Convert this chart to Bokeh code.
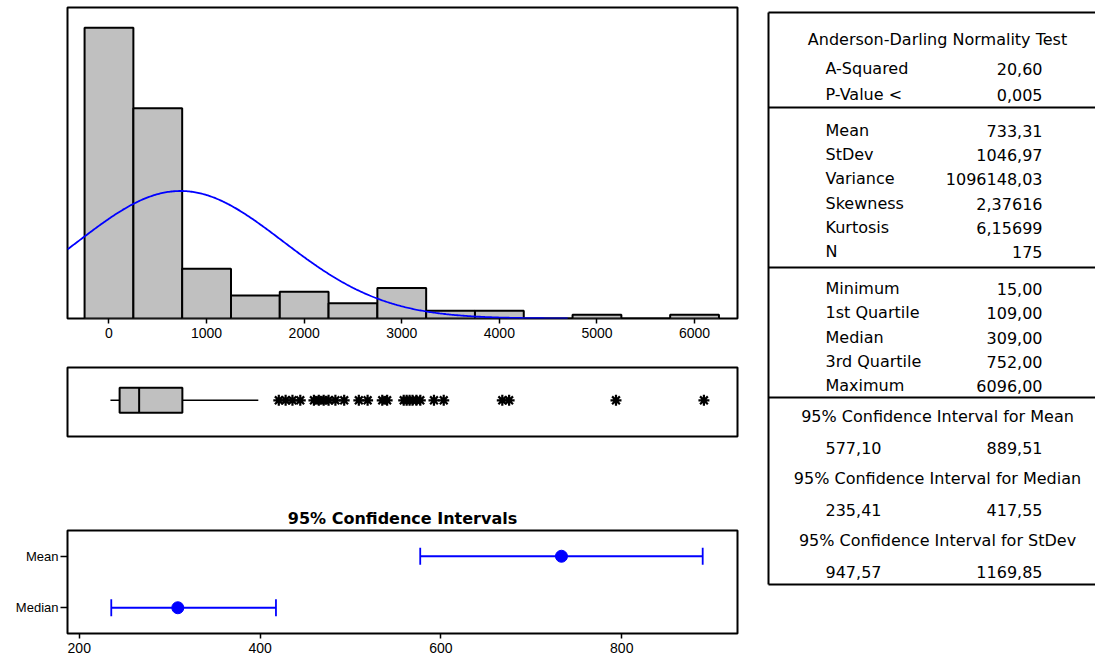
import numpy as np
from bokeh.plotting import figure
from bokeh.models import Range1d, FixedTicker, FactorRange, ColumnDataSource, Whisker, TeeHead
from bokeh.layouts import row, column
from bokeh.embed import file_html
from bokeh.resources import INLINE
from bokeh.core.properties import value

# ---------------- data ----------------
bin_centers = [0, 500, 1000, 1500, 2000, 2500, 3000, 3500, 4000, 4500, 5000, 5500, 6000]
bin_counts = [76, 55, 13, 6, 7, 4, 8, 2, 2, 0, 1, 0, 1]
bin_width = 500
hist_ticks = [0, 1000, 2000, 3000, 4000, 5000, 6000]

n_obs = 175
mean_val = 733.31
stdev_val = 1046.97

box_min = 15.0
box_q1 = 109.0
box_median = 309.0
box_q3 = 752.0
whisker_high = 1530.0
outliers = [1740, 1810, 1880, 1960, 2100, 2150, 2200, 2250, 2320, 2410, 2560, 2650,
            2800, 2850, 3020, 3050, 3080, 3110, 3150, 3190, 3330, 3430, 4030, 4100,
            5195, 6096]

ci_labels = ["Mean", "Median"]
ci_center = [733.31, 309.0]
ci_lower = [577.10, 235.41]
ci_upper = [889.51, 417.55]
ci_ticks = [200, 400, 600, 800]

ad_labels = ["A-Squared", "P-Value <"]
ad_values = ["20,60", "0,005"]
desc_labels = ["Mean", "StDev", "Variance", "Skewness", "Kurtosis", "N"]
desc_values = ["733,31", "1046,97", "1096148,03", "2,37616", "6,15699", "175"]
quart_labels = ["Minimum", "1st Quartile", "Median", "3rd Quartile", "Maximum"]
quart_values = ["15,00", "109,00", "309,00", "752,00", "6096,00"]
ci_headers = ["95% Confidence Interval for Mean",
              "95% Confidence Interval for Median",
              "95% Confidence Interval for StDev"]
ci_low_text = ["577,10", "235,41", "947,57"]
ci_high_text = ["889,51", "417,55", "1169,85"]

# ---------------- styles ----------------
AX_FONT = "Liberation Sans"
TAB_FONT = "DejaVu Sans"
GREY = "#C0C0C0"
BLUE = "#0000FF"


def base_fig(**kw):
    p = figure(output_backend="svg", toolbar_location=None, **kw)
    p.outline_line_color = "black"
    p.outline_line_width = 2
    p.background_fill_color = "white"
    p.border_fill_color = "white"
    p.xgrid.visible = False
    p.ygrid.visible = False
    return p


def style_axis(ax):
    ax.axis_line_color = None
    ax.major_tick_in = 0
    ax.minor_tick_line_color = None
    ax.major_label_text_font = AX_FONT
    ax.major_label_text_font_size = "14px"
    ax.major_label_text_color = "#000000"
    ax.major_tick_line_color = "black"
    ax.major_tick_line_width = 1.5


xr = Range1d(-425, 6440)

# ---------------- histogram ----------------
hist = base_fig(width=760, height=350, x_range=xr,
                y_range=Range1d(0, max(bin_counts) * 1.07),
                y_axis_location=None,
                min_border_left=67, min_border_right=23,
                min_border_top=7, min_border_bottom=32)
hist.quad(left=[c - bin_width / 2 for c in bin_centers],
          right=[c + bin_width / 2 for c in bin_centers],
          bottom=0, top=bin_counts,
          fill_color=GREY, line_color="black", line_width=2)
xs = np.linspace(-425, 4700, 400)
pdf = n_obs * bin_width / (stdev_val * np.sqrt(2 * np.pi)) * np.exp(-0.5 * ((xs - mean_val) / stdev_val) ** 2)
hist.line(xs, pdf, line_color=BLUE, line_width=1.8)
hist.xaxis.ticker = FixedTicker(ticks=hist_ticks)
style_axis(hist.xaxis[0])
hist.xaxis.major_tick_out = 5
hist.xaxis.major_label_standoff = 4

# ---------------- boxplot ----------------
box = base_fig(width=760, height=130, x_range=xr, y_range=Range1d(0, 1),
               x_axis_location=None, y_axis_location=None,
               min_border_left=67, min_border_right=23,
               min_border_top=17, min_border_bottom=44)
box.segment(x0=[box_min, box_q3], y0=[0.525, 0.525], x1=[box_q1, whisker_high], y1=[0.525, 0.525],
            line_color="black", line_width=1.5)
box.quad(left=[box_q1], right=[box_q3], bottom=[0.345], top=[0.705],
         fill_color=GREY, line_color="black", line_width=2)
box.segment(x0=[box_median], y0=[0.345], x1=[box_median], y1=[0.705], line_color="black", line_width=2)
box.scatter(x=outliers, y=[0.525] * len(outliers), marker="asterisk", size=11,
            line_color="black", line_width=2.2)

# ---------------- confidence intervals ----------------
ci = base_fig(width=760, height=182, x_range=Range1d(187, 928),
              y_range=FactorRange(factors=["Median", "Mean"], range_padding=0),
              min_border_left=67, min_border_right=23,
              min_border_top=50, min_border_bottom=29,
              title="95% Confidence Intervals")
ci.title.align = "center"
ci.title.text_font = "DejaVu Sans"
ci.title.text_font_style = "bold"
ci.title.text_font_size = "16px"
ci.title.text_color = "#000000"
ci.title.standoff = 6
src = ColumnDataSource(dict(label=ci_labels, center=ci_center, lower=ci_lower, upper=ci_upper))
wh = Whisker(source=src, base="label", lower="lower", upper="upper", dimension="width",
             line_color=BLUE, line_width=1.8,
             upper_head=TeeHead(size=17, line_color=BLUE, line_width=1.8),
             lower_head=TeeHead(size=17, line_color=BLUE, line_width=1.8))
ci.add_layout(wh)
ci.scatter("center", "label", source=src, size=12, fill_color=BLUE, line_color=BLUE)
ci.xaxis.ticker = FixedTicker(ticks=ci_ticks)
style_axis(ci.xaxis[0])
ci.xaxis.major_tick_out = 5
ci.xaxis.major_label_standoff = 4
style_axis(ci.yaxis[0])
ci.yaxis.major_tick_out = 7
ci.yaxis.major_label_standoff = 2
ci.yaxis.major_label_text_font_size = "13px"

# ---------------- statistics table ----------------
tab = figure(output_backend="svg", toolbar_location=None, width=335, height=662,
             x_range=Range1d(0, 335), y_range=Range1d(662, 0),
             x_axis_location=None, y_axis_location=None,
             min_border=0)
tab.outline_line_color = None
tab.xgrid.visible = False
tab.ygrid.visible = False
tab.border_fill_color = "white"

LX, RX, CX = 65, 282, 177
tab.segment(x0=[8], y0=[12], x1=[8], y1=[584], line_color="black", line_width=2)
tab.segment(x0=[8] * 5, y0=[12, 107, 267, 397, 584], x1=[340] * 5, y1=[12, 107, 267, 397, 584],
            line_color="black", line_width=2)

tstyle = dict(text_font=value(TAB_FONT), text_font_size="16px", text_color="#000000",
              text_baseline="middle")
tab.text(x=[CX], y=[39], text=["Anderson-Darling Normality Test"], text_align="center", **tstyle)

ad_y = [68, 94]
desc_y = [130, 154, 178, 203, 227, 251]
quart_y = [288, 312, 337, 361, 385]
labels = ad_labels + desc_labels + quart_labels
vals = ad_values + desc_values + quart_values
ys = ad_y + desc_y + quart_y
tab.text(x=[LX] * len(labels), y=ys, text=labels, text_align="left", **tstyle)
tab.text(x=[RX] * len(vals), y=ys, text=vals, text_align="right", **tstyle)

hdr_y = [416, 478, 540]
val_y = [447, 509, 571]
tab.text(x=[CX] * 3, y=hdr_y, text=ci_headers, text_align="center", **tstyle)
tab.text(x=[LX] * 3, y=val_y, text=ci_low_text, text_align="left", **tstyle)
tab.text(x=[RX] * 3, y=val_y, text=ci_high_text, text_align="right", **tstyle)

layout = row(column(hist, box, ci, spacing=0), tab, spacing=0)
open("out.html", "w").write(file_html(layout, INLINE))
